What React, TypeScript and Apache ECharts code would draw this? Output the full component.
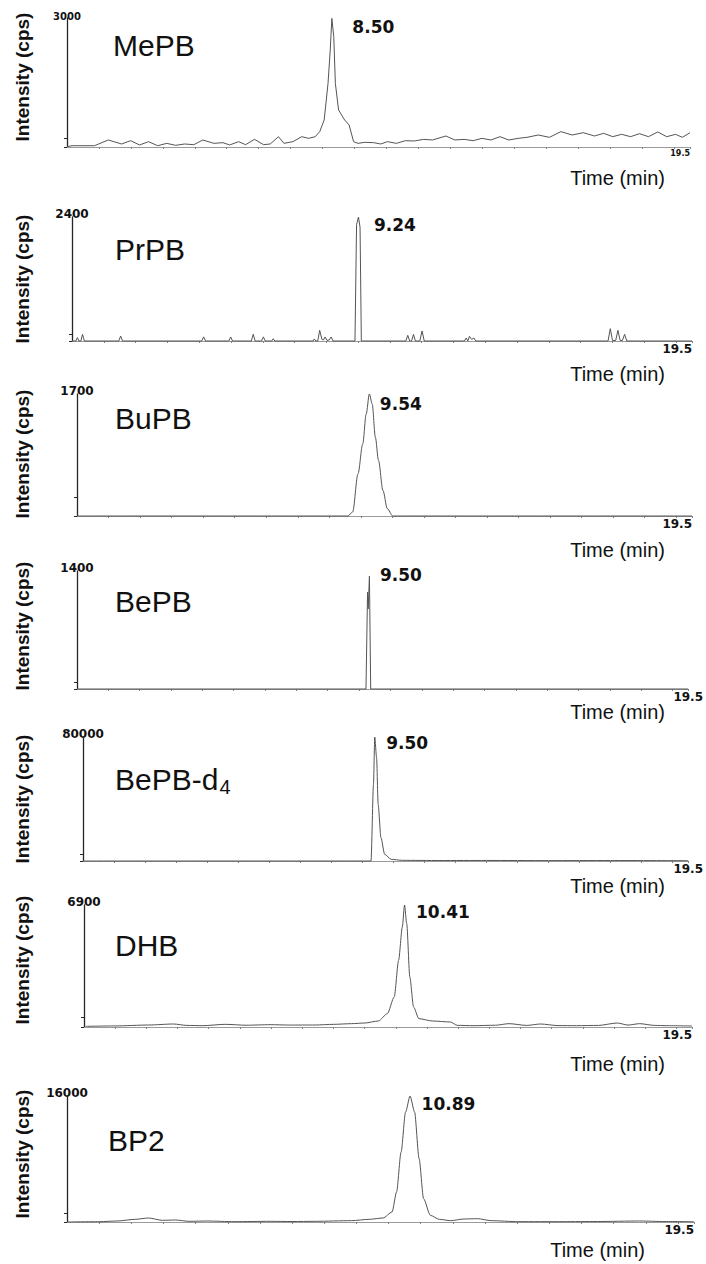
import React, { useEffect, useRef } from "react";
import * as echarts from "echarts";

// ---- data ----
const compounds = ["MePB", "PrPB", "BuPB", "BePB", "BePB-d4", "DHB", "BP2"];
const peakLabels = ["8.50", "9.24", "9.54", "9.50", "9.50", "10.41", "10.89"];
const yMaxLabels = [3000, 2400, 1700, 1400, 80000, 6900, 16000];
const yTickValues = [200, 130, 260, 80, 4300, 570, 1060];
const xMax = 19.5;
const xTickStep = 1;

const mepbTrace = [
  [0.0, 7], [0.16, 30], [0.44, 30], [0.86, 30], [1.29, 163], [1.71, 70], [1.99, 147], [2.27, 47],
  [2.55, 124], [2.84, 30], [3.12, 85], [3.4, 39], [3.68, 70], [3.97, 54], [4.25, 163], [4.6, 85],
  [4.88, 101], [5.09, 47], [5.37, 124], [5.59, 54], [5.87, 178], [6.15, 54], [6.36, 70], [6.62, 240],
  [6.79, 85], [7.07, 124], [7.35, 240], [7.56, 201], [7.77, 240], [7.91, 357], [8.05, 628], [8.17, 1481],
  [8.24, 2256], [8.29, 2990], [8.35, 2566], [8.4, 1481], [8.5, 861], [8.69, 628], [8.83, 512], [8.97, 124],
  [9.11, 85], [9.32, 109], [9.6, 101], [9.82, 70], [10.03, 124], [10.31, 85], [10.59, 147], [10.87, 140],
  [11.16, 178], [11.44, 163], [11.86, 256], [12.14, 163], [12.43, 178], [12.71, 147], [12.99, 201],
  [13.27, 163], [13.55, 240], [13.83, 163], [14.12, 201], [14.4, 225], [14.75, 279], [15.1, 225],
  [15.46, 357], [15.81, 279], [16.16, 333], [16.51, 256], [16.8, 318], [17.08, 240], [17.36, 295],
  [17.64, 240], [17.92, 310], [18.2, 240], [18.49, 349], [18.77, 240], [19.05, 295], [19.26, 225], [19.5, 333],
];

const prpbTrace = [
  [0, 0], [0.12, 0], [0.17, 65], [0.22, 0], [0.28, 0], [0.33, 130], [0.39, 0],
  [1.47, 0], [1.53, 97], [1.59, 0],
  [4.08, 0], [4.14, 80], [4.2, 0],
  [4.93, 0], [4.99, 78], [5.05, 0],
  [5.64, 0], [5.7, 130], [5.76, 0],
  [5.96, 0], [6.02, 80], [6.08, 0],
  [6.28, 0], [6.33, 45], [6.38, 0],
  [7.58, 0], [7.62, 40], [7.67, 0], [7.73, 0], [7.79, 207], [7.86, 30], [7.91, 20], [7.96, 78],
  [8.02, 10], [8.09, 20], [8.15, 78], [8.21, 0],
  [8.9, 0], [8.95, 2250], [9.01, 2400], [9.06, 2200], [9.1, 0],
  [10.5, 0], [10.56, 110], [10.62, 0], [10.68, 0], [10.74, 129], [10.8, 0], [10.94, 0], [11.01, 194], [11.08, 0],
  [12.34, 0], [12.4, 58], [12.45, 0], [12.5, 91], [12.57, 30], [12.64, 58], [12.7, 0],
  [16.86, 0], [16.93, 239], [17.0, 10], [17.1, 10], [17.17, 207], [17.24, 10], [17.31, 10], [17.38, 129],
  [17.45, 0], [19.5, 0],
];

const bupbTrace = [
  [0, 0], [8.59, 0], [8.74, 56], [8.91, 588], [9.06, 1005], [9.17, 1422], [9.27, 1700], [9.36, 1561],
  [9.46, 1098], [9.56, 774], [9.7, 357], [9.84, 102], [10.01, 0], [19.5, 0],
];

const bepbTrace = [
  [0, 0], [9.22, 0], [9.27, 1150], [9.29, 950], [9.33, 1340], [9.37, 0], [19.5, 0],
];

const bepbD4Trace = [
  [0, 0], [9.28, 0], [9.36, 49450], [9.4, 80000], [9.46, 66650], [9.51, 36550], [9.6, 15050],
  [9.72, 4300], [9.93, 1075], [10.29, 430], [11.5, 300], [13.0, 350], [15.0, 250], [17.0, 300], [19.5, 200],
];

const dhbTrace = [
  [0.05, 38], [1.0, 60], [2.07, 113], [2.87, 170], [3.3, 90], [3.81, 75], [4.53, 151], [5.2, 100],
  [5.97, 132], [6.6, 110], [7.42, 113], [8.0, 150], [8.58, 189], [9.01, 226], [9.44, 340], [9.73, 755],
  [9.95, 1698], [10.09, 3773], [10.21, 5660], [10.28, 6900], [10.35, 5849], [10.45, 2830], [10.57, 1132],
  [10.74, 472], [11.17, 340], [11.75, 283], [11.97, 94], [12.48, 75], [13.2, 100], [13.63, 189], [14.2, 90],
  [14.64, 170], [15.2, 80], [15.8, 75], [16.5, 90], [17.1, 226], [17.45, 110], [17.82, 189], [18.3, 90],
  [18.69, 75], [19.5, 57],
];

const bp2Trace = [
  [0.02, 0], [1.0, 40], [1.56, 127], [2.12, 339], [2.54, 508], [2.96, 212], [3.38, 254], [3.8, 85],
  [4.36, 127], [5.2, 42], [6.32, 85], [7.0, 60], [7.72, 85], [8.85, 169], [9.4, 339], [9.83, 508],
  [10.11, 1270], [10.25, 3810], [10.39, 8890], [10.53, 13970], [10.67, 16000], [10.81, 13970],
  [10.95, 8043], [11.09, 2963], [11.3, 847], [11.58, 339], [11.93, 169], [12.35, 381], [12.77, 423],
  [13.19, 169], [14.03, 42], [15.43, 42], [16.5, 60], [17.81, 127], [18.6, 60], [19.49, 42],
];

const traces = [mepbTrace, prpbTrace, bupbTrace, bepbTrace, bepbD4Trace, dhbTrace, bp2Trace];

// ---- layout (pixels) ----
const layout = [
  { left: 67, right: 16, top: 18, height: 129, yCenter: 77, nameX: 113, nameY: 45, timeX: 665, timeY: 178, xLabelAlign: "right", xLabelSize: 8, maxSize: 10, smooth: false, peakOff: [20, 9] },
  { left: 72, right: 14, top: 217, height: 124, yCenter: 279, nameX: 115, nameY: 249, timeX: 665, timeY: 374, xLabelAlign: "right", xLabelSize: 12, maxSize: 12, smooth: false, peakOff: [15, 8] },
  { left: 77, right: 14, top: 394, height: 122, yCenter: 454, nameX: 115, nameY: 418, timeX: 665, timeY: 550, xLabelAlign: "right", xLabelSize: 12, maxSize: 12, smooth: 0.3, peakOff: [10, 10] },
  { left: 77, right: 12, top: 571, height: 118, yCenter: 626, nameX: 115, nameY: 601, timeX: 665, timeY: 712, xLabelAlign: "center", xLabelSize: 12, maxSize: 12, smooth: false, peakOff: [10, -1] },
  { left: 83, right: 12, top: 737, height: 124, yCenter: 799, nameX: 115, nameY: 779, timeX: 665, timeY: 886, xLabelAlign: "center", xLabelSize: 12, maxSize: 12, smooth: 0.25, peakOff: [11, 6] },
  { left: 84, right: 14, top: 905, height: 122, yCenter: 960, nameX: 115, nameY: 945, timeX: 665, timeY: 1064, xLabelAlign: "right", xLabelSize: 12, maxSize: 12, smooth: 0.25, peakOff: [11, 7] },
  { left: 67, right: 12, top: 1096, height: 126, yCenter: 1154, nameX: 108, nameY: 1140, timeX: 645, timeY: 1250, xLabelAlign: "right", xLabelSize: 12, maxSize: 12, smooth: 0.25, peakOff: [11, 8] },
];

const NUM_FONT = "'DejaVu Sans', sans-serif";
const TEXT_FONT = "'Liberation Sans', Arial, sans-serif";

function apexOf(trace: number[][]) {
  let best = trace[0];
  for (const p of trace) if (p[1] > best[1]) best = p;
  return best;
}

function buildOption() {
  const grid: any[] = [];
  const xAxis: any[] = [];
  const yAxis: any[] = [];
  const series: any[] = [];
  const graphic: any[] = [];

  compounds.forEach((name, i) => {
    const L = layout[i];
    grid.push({ left: L.left, right: L.right, top: L.top, height: L.height, containLabel: false });
    xAxis.push({
      type: "value",
      gridIndex: i,
      min: 0,
      max: xMax,
      interval: xTickStep,
      axisLine: { show: true, onZero: false, lineStyle: { color: "#9a9a9a", width: 1 } },
      axisTick: { show: true, length: 2, lineStyle: { color: "#808080", width: 1 } },
      axisLabel: {
        show: true,
        margin: 2,
        align: L.xLabelAlign,
        showMaxLabel: true,
        showMinLabel: false,
        formatter: (v: number) => (Math.abs(v - xMax) < 1e-9 ? String(xMax) : ""),
        fontFamily: NUM_FONT,
        fontWeight: "bold",
        fontSize: L.xLabelSize,
        color: "#111",
      },
      splitLine: { show: false },
    });
    yAxis.push({
      type: "value",
      gridIndex: i,
      min: 0,
      max: yMaxLabels[i],
      axisLine: { show: true, lineStyle: { color: "#262626", width: 1.3 } },
      axisTick: { show: true, customValues: [0, yTickValues[i]], length: 3, lineStyle: { color: "#262626" } },
      axisLabel: { show: false },
      splitLine: { show: false },
      name: String(yMaxLabels[i]),
      nameLocation: "end",
      nameGap: -3,
      nameTextStyle: { fontFamily: NUM_FONT, fontWeight: "bold", fontSize: L.maxSize, color: "#111", align: "center", verticalAlign: "bottom" },
    });
    const apex = apexOf(traces[i]);
    series.push({
      type: "line",
      name,
      xAxisIndex: i,
      yAxisIndex: i,
      data: traces[i],
      showSymbol: false,
      symbol: "none",
      smooth: L.smooth,
      smoothMonotone: "x",
      clip: false,
      lineStyle: { color: "#555", width: 1 },
      markPoint: {
        silent: true,
        symbol: "circle",
        symbolSize: 1,
        itemStyle: { color: "rgba(0,0,0,0)" },
        data: [{ coord: [apex[0], apex[1]], value: peakLabels[i] }],
        label: {
          show: true,
          position: "right",
          distance: 0,
          offset: L.peakOff,
          formatter: peakLabels[i],
          fontFamily: NUM_FONT,
          fontWeight: "bold",
          fontSize: 17,
          color: "#111",
        },
      },
    });

    // rotated y-axis title
    graphic.push({
      type: "text",
      x: 22,
      y: L.yCenter,
      rotation: Math.PI / 2,
      silent: true,
      style: {
        text: "Intensity (cps)",
        fill: "#111",
        fontFamily: TEXT_FONT,
        fontWeight: "bold",
        fontSize: 19,
        align: "center",
        verticalAlign: "middle",
        textAlign: "center",
        textVerticalAlign: "middle",
      },
    });
    // compound name
    const isD4 = name.endsWith("-d4");
    graphic.push({
      type: "text",
      x: L.nameX,
      y: L.nameY,
      silent: true,
      style: {
        text: isD4 ? "{a|" + name.slice(0, -1) + "}{s|" + name.slice(-1) + "}" : name,
        fill: "#111",
        fontFamily: TEXT_FONT,
        fontSize: 30,
        align: "left",
        verticalAlign: "middle",
        textAlign: "left",
        textVerticalAlign: "middle",
        rich: {
          a: { fontFamily: TEXT_FONT, fontSize: 30, fill: "#111", color: "#111" },
          s: { fontFamily: TEXT_FONT, fontSize: 20, fill: "#111", color: "#111", padding: [16, 0, 0, 1] },
        },
      },
    });
    // x-axis title
    graphic.push({
      type: "text",
      x: L.timeX,
      y: L.timeY,
      silent: true,
      style: {
        text: "Time (min)",
        fill: "#111",
        fontFamily: TEXT_FONT,
        fontSize: 20,
        align: "right",
        verticalAlign: "middle",
        textAlign: "right",
        textVerticalAlign: "middle",
      },
    });
  });

  return {
    animation: false,
    backgroundColor: "#ffffff",
    grid,
    xAxis,
    yAxis,
    series,
    graphic,
  };
}

export default function App() {
  const ref = useRef<HTMLDivElement>(null);
  useEffect(() => {
    if (!ref.current) return;
    const chart = echarts.init(ref.current, null, { renderer: "svg" });
    chart.setOption(buildOption() as any);
    return () => chart.dispose();
  }, []);
  return (
    <div
      ref={ref}
      style={{ position: "absolute", left: 0, top: 0, width: 706, height: 1264, background: "#fff" }}
    />
  );
}
